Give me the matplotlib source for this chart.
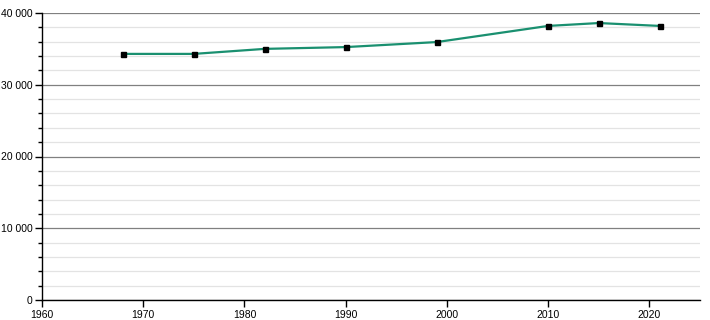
import matplotlib.pyplot as plt
from matplotlib.ticker import MultipleLocator, FuncFormatter

# data
years = [1968, 1975, 1982, 1990, 1999, 2010, 2015, 2021]
population = [34300, 34300, 35000, 35250, 35950, 38200, 38600, 38200]

plt.rcParams["font.family"] = ["Liberation Sans", "DejaVu Sans"]

fig = plt.figure(figsize=(7.1, 3.2), dpi=100)
ax = fig.add_axes([42 / 710, 20 / 320, 658 / 710, 287 / 320])

ax.set_xlim(1960, 2025)
ax.set_ylim(0, 40000)

ax.yaxis.set_major_locator(MultipleLocator(10000))
ax.yaxis.set_minor_locator(MultipleLocator(2000))
ax.xaxis.set_major_locator(MultipleLocator(10))
ax.yaxis.set_major_formatter(FuncFormatter(lambda v, p: f"{int(v):,}".replace(",", " ")))

ax.grid(which="major", axis="y", color="#808080", lw=0.9)
ax.grid(which="minor", axis="y", color="#e3e3e3", lw=0.9)
ax.set_axisbelow(True)

for s in ["top", "right"]:
    ax.spines[s].set_visible(False)
ax.spines["left"].set_linewidth(1.0)
ax.spines["bottom"].set_linewidth(1.0)

ax.tick_params(axis="both", which="major", direction="out", length=5, width=1,
               labelsize=7.5, colors="black", pad=2)
ax.tick_params(axis="y", which="minor", direction="out", length=3, width=1)

ax.plot(years, population, color="#1a9070", lw=1.6, zorder=3)
ax.plot(years, population, ls="none", marker="s", ms=3.6, color="black", zorder=4)

fig.savefig("out.png", dpi=100, facecolor="white")
